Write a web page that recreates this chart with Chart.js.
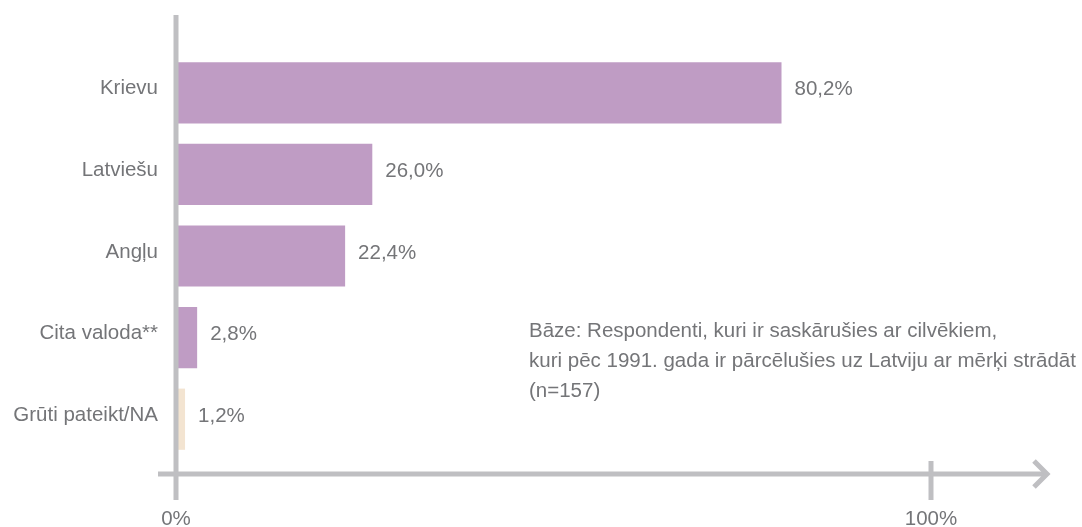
<!DOCTYPE html>
<html>
<head>
<meta charset="utf-8">
<script src="https://cdn.jsdelivr.net/npm/chart.js@4/dist/chart.umd.min.js"></script>
<style>
  html, body { margin: 0; padding: 0; background: #fff; }
  #wrap { width: 1082px; height: 527px; }
</style>
</head>
<body>
<div id="wrap"><canvas id="myChart" width="1082" height="527"></canvas></div>
<script>
// data
const labels = ['Krievu', 'Latviešu', 'Angļu', 'Cita valoda**', 'Grūti pateikt/NA'];
const values = [80.2, 26.0, 22.4, 2.8, 1.2];
const barColors = ['#bf9cc4', '#bf9cc4', '#bf9cc4', '#bf9cc4', '#f3e4d1'];
const xTicks = [0, 100];
const noteLines = [
    'Bāze: Respondenti, kuri ir saskārušies ar cilvēkiem,',
    'kuri pēc 1991. gada ir pārcēlušies uz Latviju ar mērķi strādāt',
    '(n=157)'
];

const textColor = '#747578';
const axisColor = '#bfbfc2';
const fontFamily = '"Liberation Sans", Arial, sans-serif';
const fontSize = 20.5;

const fmt = v => v.toFixed(1).replace('.', ',') + '%';

// axes with arrow, value labels and the note
const decor = {
    id: 'decor',
    afterDatasetsDraw(chart) {
        const ctx = chart.ctx;
        const x = chart.scales.x;
        const x0 = x.getPixelForValue(0);
        const x100 = x.getPixelForValue(100);
        const axisY = 474;
        ctx.save();
        ctx.strokeStyle = axisColor;
        ctx.lineWidth = 5;
        ctx.lineCap = 'butt';
        // vertical axis
        ctx.beginPath();
        ctx.moveTo(x0, 15);
        ctx.lineTo(x0, 500);
        ctx.stroke();
        // horizontal axis
        ctx.beginPath();
        ctx.moveTo(158, axisY);
        ctx.lineTo(1047, axisY);
        ctx.stroke();
        // 100% tick
        ctx.beginPath();
        ctx.moveTo(x100, 461);
        ctx.lineTo(x100, 500);
        ctx.stroke();
        // arrow head
        ctx.lineJoin = 'miter';
        ctx.beginPath();
        ctx.moveTo(1034, 461);
        ctx.lineTo(1047, axisY);
        ctx.lineTo(1034, 487);
        ctx.stroke();

        // value labels
        ctx.fillStyle = textColor;
        ctx.font = fontSize + 'px ' + fontFamily;
        ctx.textAlign = 'left';
        ctx.textBaseline = 'middle';
        chart.getDatasetMeta(0).data.forEach((bar, i) => {
            ctx.fillText(fmt(values[i]), bar.x + 13, bar.y - 3);
        });

        // note
        noteLines.forEach((line, i) => {
            ctx.fillText(line, 529, 331 + i * 30);
        });
        ctx.restore();
    }
};

const ctx = document.getElementById('myChart');
const myChart = new Chart(ctx, {
    type: 'bar',
    data: {
        labels: labels,
        datasets: [{
            data: values,
            backgroundColor: barColors,
            borderWidth: 0,
            barPercentage: 0.75,
            categoryPercentage: 1
        }]
    },
    options: {
        indexAxis: 'y',
        responsive: false,
        animation: false,
        layout: { padding: { top: 52, right: 151, left: 0, bottom: 0 } },
        plugins: {
            legend: { display: false },
            tooltip: { enabled: false }
        },
        scales: {
            x: {
                min: 0,
                max: 100,
                grid: { display: false },
                border: { display: false },
                afterBuildTicks: s => { s.ticks = xTicks.map(v => ({ value: v })); },
                afterFit: s => { s.height = 67; },
                ticks: {
                    padding: 39,
                    color: textColor,
                    font: { family: fontFamily, size: fontSize },
                    callback: v => v + '%'
                }
            },
            y: {
                grid: { display: false },
                border: { display: false },
                afterFit: s => { s.width = 176; },
                ticks: {
                    padding: 10,
                    labelOffset: -4,
                    color: textColor,
                    font: { family: fontFamily, size: fontSize }
                }
            }
        }
    },
    plugins: [decor]
});
</script>
</body>
</html>
